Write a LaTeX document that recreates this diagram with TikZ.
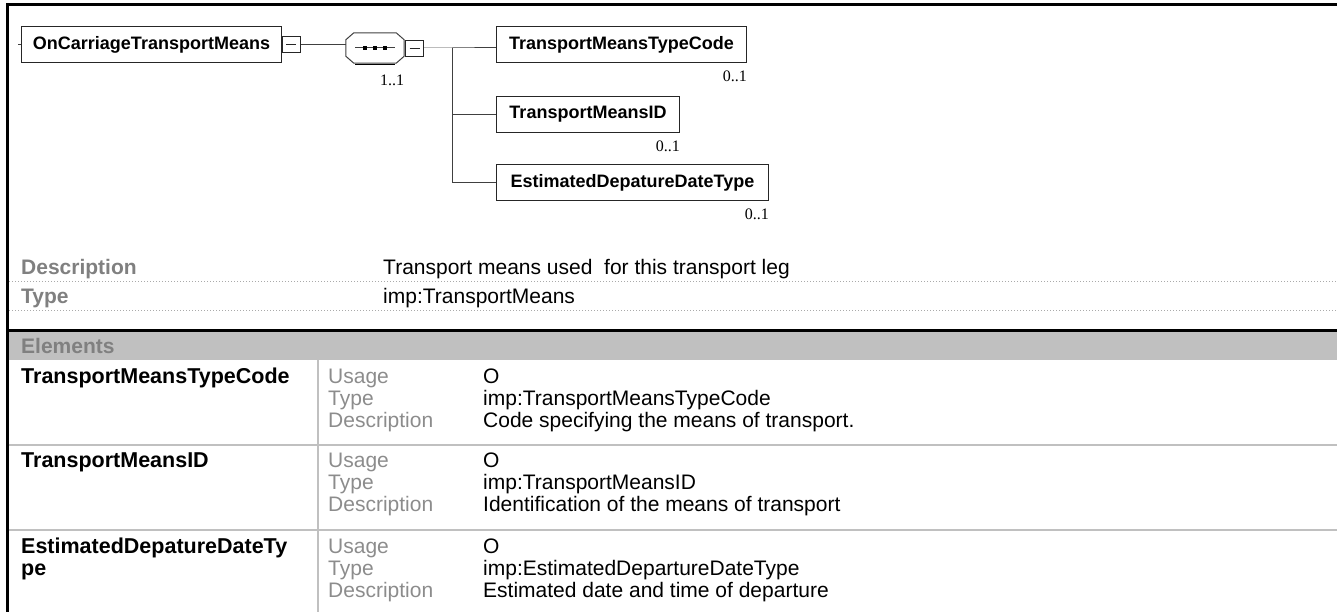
\documentclass[tikz,border=0pt]{standalone}
\usepackage{fontspec}
\setmainfont{Liberation Sans}
\newfontfamily\multfont{Liberation Serif}
\usetikzlibrary{positioning}
\definecolor{lblgray}{RGB}{128,128,128}
\definecolor{rowgray}{RGB}{140,140,140}
\definecolor{bandgray}{RGB}{192,192,192}
\definecolor{dotgray}{RGB}{170,170,170}
\begin{document}
\begin{tikzpicture}[x=1pt,y=-1pt,
  elem/.style={draw=black!85,line width=1pt,fill=white,minimum height=36pt,inner sep=0pt,
               anchor=north west,font=\fontsize{18}{20}\selectfont\bfseries},
  minus/.style={draw=black!85,line width=0.8pt,minimum width=18pt,minimum height=16pt,inner sep=0pt,
                path picture={\draw[line width=0.8pt] ([xshift=4pt]path picture bounding box.west)
                  -- ([xshift=-4pt]path picture bounding box.east);}},
  seqbox/.style={minimum width=58pt,minimum height=30pt,inner sep=0pt},
  link/.style={draw=black!75,line width=1pt},
  mult/.style={font=\multfont\fontsize{16}{17}\selectfont,inner sep=0pt,anchor=base east},
  lbl/.style={font=\fontsize{21}{22}\selectfont\bfseries,text=lblgray,inner sep=0pt,anchor=base west},
  val/.style={font=\fontsize{21}{22}\selectfont,inner sep=0pt,anchor=base west},
  key/.style={font=\fontsize{21}{22}\selectfont,text=rowgray,inner sep=0pt,anchor=base west},
  elname/.style={font=\fontsize{21.5}{22}\selectfont\bfseries,inner sep=0pt,anchor=base west,align=left},
  dotline/.style={draw=dotgray,line width=1pt,dash pattern=on 1pt off 2pt},
  sepline/.style={draw=bandgray,line width=2pt}
]
  \useasboundingbox (0,0) rectangle (1337,612);

  % frame
  \draw[line width=3pt] (6,5) -- (1337,5);
  \draw[line width=2.5pt] (7.5,3.5) -- (7.5,612);

  % diagram
  \node[elem,minimum width=260pt] (root) at (21,26) {OnCarriageTransportMeans};
  \node[minus,anchor=west] (rootmin) at (root.east) {};
  \node[seqbox] (seq) at (375,48) {};
  \node[minus,anchor=west] (seqmin) at ([xshift=1pt]seq.east) {};
  \coordinate (fork) at (452,48);
  \node[elem,minimum width=250pt] (tmtc) at (496,26) {TransportMeansTypeCode};
  \node[elem,minimum width=183pt] (tmid) at (496,96) {TransportMeansID};
  \node[elem,minimum width=272pt] (eddt) at (496,164) {EstimatedDepatureDateType};

  \draw[link] (root.west) -- ++(-3,0);
  \draw[link] (rootmin.east) -- (rootmin.east -| seq.west);
  \draw[link] (seqmin.east) -- (fork) -- (fork -| tmtc.west);
  \draw[link] (fork) |- (tmid.west);
  \draw[link] (fork) |- (eddt.west);

  % sequence compositor
  \draw[link] ([xshift=8pt]seq.north west) -- ([xshift=-8pt]seq.north east)
    -- ([yshift=-7pt]seq.north east) -- ([yshift=7pt]seq.south east)
    -- ([xshift=-8pt]seq.south east) -- ([xshift=8pt]seq.south west)
    -- ([yshift=7pt]seq.south west) -- ([yshift=-7pt]seq.north west) -- cycle;
  \draw[line width=1.5pt] ([xshift=-20pt,yshift=-1.5pt]seq.south) -- ([xshift=20pt,yshift=-1.5pt]seq.south);
  \draw[link] ([xshift=-20pt]seq.center) -- ([xshift=20pt]seq.center);
  \foreach \dx in {-10,0,10}
    \fill ([xshift=\dx pt]seq.center) +(-2,-2) rectangle +(2,2);

  \node[mult] at ([yshift=-22pt]seq.south east) {1..1};
  \node[mult] at ([yshift=-19pt]tmtc.south east) {0..1};
  \node[mult] at ([yshift=-19pt]tmid.south east) {0..1};
  \node[mult] at ([yshift=-19pt]eddt.south east) {0..1};

  % properties
  \node[lbl] (dlbl) at (21,274) {Description};
  \node[val] (dval) at (383,274) {Transport means used~ for this transport leg};
  \draw[dotline] (9,281) -- (1337,281);
  \node[lbl] (tlbl) at (21,303) {Type};
  \node[val] (tval) at (383,303) {imp:TransportMeans};
  \draw[dotline] (9,310) -- (1337,310);

  % elements table
  \draw[line width=3pt] (6,330) -- (1337,330);
  \fill[bandgray] (8.75,331.5) rectangle (1337,360);
  \node[lbl] (elems) at (21,353) {Elements};
  \draw[sepline] (318,360) -- (318,612);

  \node[elname] (n1) at (21,383) {TransportMeansTypeCode};
  \node[key] (u1) at (328,383) {Usage};
  \node[val] (uv1) at (483,383) {O};
  \node[key] (t1) at (328,405) {Type};
  \node[val] (tv1) at (483,405) {imp:TransportMeansTypeCode};
  \node[key] (d1) at (328,427) {Description};
  \node[val] (dv1) at (483,427) {Code specifying the means of transport.};
  \draw[sepline] (8.75,445) -- (1337,445);

  \node[elname] (n2) at (21,467) {TransportMeansID};
  \node[key] (u2) at (328,467) {Usage};
  \node[val] (uv2) at (483,467) {O};
  \node[key] (t2) at (328,489) {Type};
  \node[val] (tv2) at (483,489) {imp:TransportMeansID};
  \node[key] (d2) at (328,511) {Description};
  \node[val] (dv2) at (483,511) {Identification of the means of transport};
  \draw[sepline] (8.75,530) -- (1337,530);

  \node[elname] (n3) at (21,575) {EstimatedDepatureDateTy\\pe};
  \node[key] (u3) at (328,553) {Usage};
  \node[val] (uv3) at (483,553) {O};
  \node[key] (t3) at (328,575) {Type};
  \node[val] (tv3) at (483,575) {imp:EstimatedDepartureDateType};
  \node[key] (d3) at (328,597) {Description};
  \node[val] (dv3) at (483,597) {Estimated date and time of departure};
\end{tikzpicture}
\end{document}
